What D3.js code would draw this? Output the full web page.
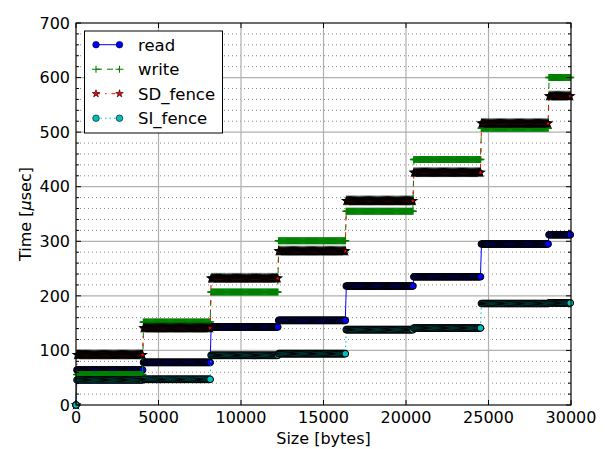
<!DOCTYPE html>
<html>
<head>
<meta charset="utf-8">
<script src="https://cdn.jsdelivr.net/npm/d3@7"></script>
<style>
  body { margin: 0; background: #fff; }
  svg { display: block; font-family: "DejaVu Sans", sans-serif; }
</style>
</head>
<body>
<svg id="fence-chart" width="606" height="449"></svg>
<script>
'use strict';

// step levels (usec) for every 4096-byte block
var blockBytes = 4096;
var sampleStep = 64;
var maxSize = 30000;
var readLevels = [64, 78, 143, 155, 218, 235, 295, 312];
var writeLevels = [56, 152, 207, 301, 355, 450, 507, 600];
var sdFenceLevels = [92, 141, 232, 282, 374, 426, 516, 566];
var siFenceLevels = [46, 47, 91, 94, 138, 141, 186, 187];
var originValue = 0;

var xTicks = [0, 5000, 10000, 15000, 20000, 25000, 30000];
var yTicks = [0, 100, 200, 300, 400, 500, 600, 700];
var yMinorStep = 20;

var svg = d3.select('svg#fence-chart'),
  pLeft = 76, pRight = 571, pTop = 23, pBottom = 405;

var x = d3.scaleLinear().domain([0, 30000]).range([pLeft, pRight]);
var y = d3.scaleLinear().domain([0, 700]).range([pBottom, pTop]);

var sizes = d3.range(0, maxSize, sampleStep);

function buildSeries(levels) {
  return sizes.map(function(s) {
    return { size: s, value: s === 0 ? originValue : levels[Math.floor(s / blockBytes)] };
  });
}

var series = [
  { name: 'read', data: buildSeries(readLevels), color: '#0000ff', dash: null, marker: 'circle' },
  { name: 'write', data: buildSeries(writeLevels), color: '#008000', dash: '6,5', marker: 'plus' },
  { name: 'SD_fence', data: buildSeries(sdFenceLevels), color: '#ff0000', dash: '4,5,1.5,5', marker: 'star' },
  { name: 'SI_fence', data: buildSeries(siFenceLevels), color: '#00bfbf', dash: '1.5,3', marker: 'circle' }
];

var yMinor = d3.range(0, 701, yMinorStep).filter(function(v) { return v % 100 !== 0; });

// minor grid (dotted, horizontal only)
svg.append('g')
  .selectAll('line')
  .data(yMinor)
  .enter().append('line')
  .attr('x1', pLeft).attr('x2', pRight)
  .attr('y1', function(d) { return y(d); })
  .attr('y2', function(d) { return y(d); })
  .attr('stroke', '#8a8a8a')
  .attr('stroke-width', 1)
  .attr('stroke-dasharray', '1,3');

// major grid
var grid = svg.append('g').attr('stroke', '#b0b0b0').attr('stroke-width', 1.2);
grid.selectAll('line.gx')
  .data(xTicks)
  .enter().append('line')
  .attr('class', 'gx')
  .attr('x1', function(d) { return x(d); })
  .attr('x2', function(d) { return x(d); })
  .attr('y1', pTop).attr('y2', pBottom);
grid.selectAll('line.gy')
  .data(yTicks)
  .enter().append('line')
  .attr('class', 'gy')
  .attr('x1', pLeft).attr('x2', pRight)
  .attr('y1', function(d) { return y(d); })
  .attr('y2', function(d) { return y(d); });

var line = d3.line()
  .x(function(d) { return x(d.size); })
  .y(function(d) { return y(d.value); });

var starPath = d3.symbol().type(d3.symbolStar).size(18)();

function drawMarker(sel, s, edge) {
  if (s.marker === 'circle') {
    sel.append('circle')
      .attr('r', 3.3)
      .attr('fill', s.color)
      .attr('stroke', '#000')
      .attr('stroke-width', edge);
  } else if (s.marker === 'plus') {
    sel.append('path')
      .attr('d', 'M-4,0H4M0,-3.5V3.5')
      .attr('fill', 'none')
      .attr('stroke', s.color)
      .attr('stroke-width', edge > 1 ? 1.6 : 1.1);
  } else {
    sel.append('path')
      .attr('d', starPath)
      .attr('fill', s.color)
      .attr('stroke', '#000')
      .attr('stroke-width', edge);
  }
}

var plot = svg.append('g');
series.forEach(function(s) {
  var g = plot.append('g').attr('class', 'series');
  g.append('path')
    .datum(s.data)
    .attr('d', line)
    .attr('fill', 'none')
    .attr('stroke', s.color)
    .attr('stroke-width', 1)
    .attr('stroke-dasharray', s.dash);

  g.selectAll('g.pt')
    .data(s.data)
    .enter().append('g')
    .attr('class', 'pt')
    .attr('transform', function(d) { return 'translate(' + x(d.size) + ',' + y(d.value) + ')'; })
    .each(function() { drawMarker(d3.select(this), s, 1.1); });
});

// frame and ticks (inward, on all four sides)
svg.append('rect')
  .attr('x', pLeft).attr('y', pTop)
  .attr('width', pRight - pLeft).attr('height', pBottom - pTop)
  .attr('fill', 'none').attr('stroke', '#000').attr('stroke-width', 1);

var ticks = svg.append('g').attr('stroke', '#000').attr('stroke-width', 1);
xTicks.forEach(function(v) {
  ticks.append('line').attr('x1', x(v)).attr('x2', x(v)).attr('y1', pBottom).attr('y2', pBottom - 5);
  ticks.append('line').attr('x1', x(v)).attr('x2', x(v)).attr('y1', pTop).attr('y2', pTop + 5);
});
yTicks.forEach(function(v) {
  ticks.append('line').attr('x1', pLeft).attr('x2', pLeft + 5).attr('y1', y(v)).attr('y2', y(v));
  ticks.append('line').attr('x1', pRight).attr('x2', pRight - 5).attr('y1', y(v)).attr('y2', y(v));
});
yMinor.forEach(function(v) {
  ticks.append('line').attr('x1', pLeft).attr('x2', pLeft + 3).attr('y1', y(v)).attr('y2', y(v));
  ticks.append('line').attr('x1', pRight).attr('x2', pRight - 3).attr('y1', y(v)).attr('y2', y(v));
});

svg.append('g')
  .selectAll('text')
  .data(xTicks)
  .enter().append('text')
  .attr('x', function(d) { return x(d); })
  .attr('y', 423)
  .attr('text-anchor', 'middle')
  .attr('font-size', 16)
  .text(function(d) { return d; });

svg.append('g')
  .selectAll('text')
  .data(yTicks)
  .enter().append('text')
  .attr('x', 70)
  .attr('y', function(d) { return y(d); })
  .attr('dy', '0.36em')
  .attr('text-anchor', 'end')
  .attr('font-size', 16)
  .text(function(d) { return d; });

svg.append('text')
  .attr('x', (pLeft + pRight) / 2)
  .attr('y', 444)
  .attr('text-anchor', 'middle')
  .attr('font-size', 16)
  .text('Size [bytes]');

var ylab = svg.append('text')
  .attr('transform', 'translate(31,' + ((pTop + pBottom) / 2) + ') rotate(-90)')
  .attr('text-anchor', 'middle')
  .attr('font-size', 16);
ylab.append('tspan').text('Time [');
ylab.append('tspan').attr('font-style', 'italic').text('\u03bc');
ylab.append('tspan').text('sec]');

// legend
var legend = svg.append('g');
legend.append('rect')
  .attr('x', 84.5).attr('y', 31)
  .attr('width', 138).attr('height', 102)
  .attr('fill', '#fff').attr('stroke', '#000').attr('stroke-width', 1);

series.forEach(function(s, i) {
  var ly = 44.7 + i * 24.5;
  var item = legend.append('g');
  item.append('line')
    .attr('x1', 96).attr('x2', 119.5)
    .attr('y1', ly).attr('y2', ly)
    .attr('stroke', s.color)
    .attr('stroke-width', 1)
    .attr('stroke-dasharray', s.dash);
  [96, 119.5].forEach(function(mx) {
    var m = item.append('g').attr('transform', 'translate(' + mx + ',' + ly + ')');
    drawMarker(m, s, 0.6);
  });
  item.append('text')
    .attr('x', 138)
    .attr('y', ly)
    .attr('dy', '0.36em')
    .attr('font-size', 16.5)
    .text(s.name);
});
</script>
</body>
</html>
